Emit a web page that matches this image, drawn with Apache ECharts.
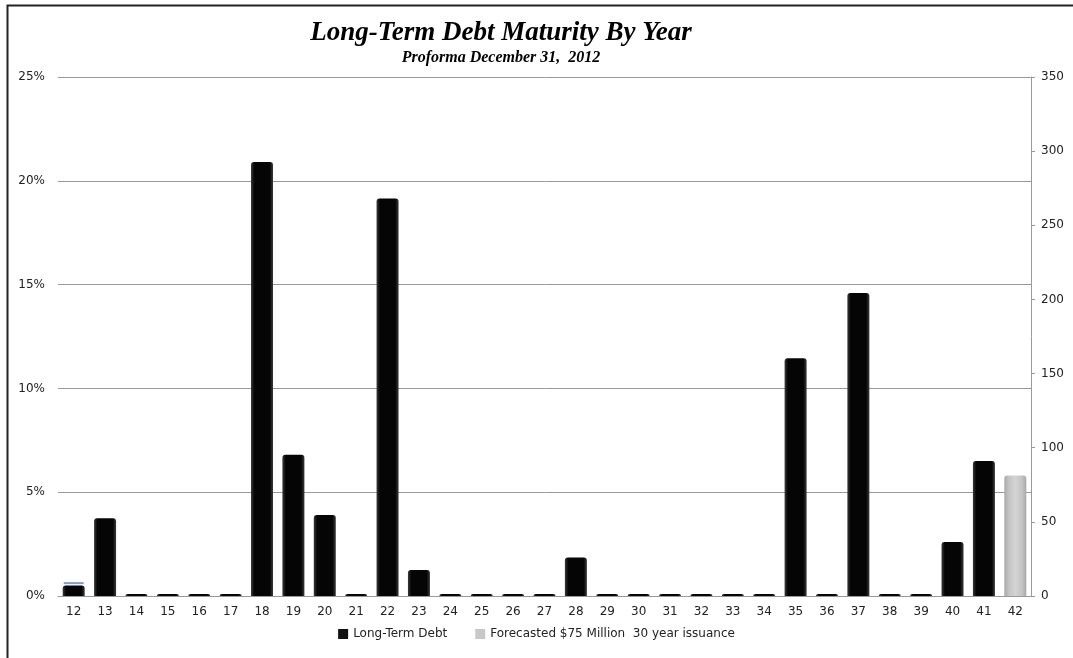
<!DOCTYPE html>
<html>
<head>
<meta charset="utf-8">
<script src="https://cdn.jsdelivr.net/npm/echarts@6/dist/echarts.min.js"></script>
<style>
  html, body { margin: 0; padding: 0; background: #fff; }
  #chart { width: 1073px; height: 658px; }
</style>
</head>
<body>
<div id="chart"></div>
<script>
// years of maturity (20xx)
const years = ["12","13","14","15","16","17","18","19","20","21","22","23","24","25","26",
  "27","28","29","30","31","32","33","34","35","36","37","38","39","40","41","42"];

// share of long-term debt maturing each year, %
const debtPct = [0.5, 3.75, 0, 0, 0, 0, 20.9, 6.8, 3.9, 0, 19.15, 1.25, 0, 0, 0,
  0, 1.85, 0, 0, 0, 0, 0, 0, 11.45, 0, 14.6, 0, 0, 2.6, 6.5, null];

// forecasted $75M 30 year issuance, %
const forecastPct = [null, null, null, null, null, null, null, null, null, null, null, null, null, null, null,
  null, null, null, null, null, null, null, null, null, null, null, null, null, null, null, 5.8];

// small blue marker above 2012 bar
const markerPct = [0.62];
const markerYears = ["12"];

const chart = echarts.init(document.getElementById("chart"));

const blackFill = new echarts.graphic.LinearGradient(0, 0, 1, 0, [
  { offset: 0, color: "#3a3a3a" },
  { offset: 0.15, color: "#050505" },
  { offset: 0.85, color: "#050505" },
  { offset: 1, color: "#3a3a3a" },
]);
const grayFill = new echarts.graphic.LinearGradient(0, 0, 1, 0, [
  { offset: 0, color: "#a8a8a8" },
  { offset: 0.2, color: "#c4c4c4" },
  { offset: 0.5, color: "#d4d4d4" },
  { offset: 0.8, color: "#c4c4c4" },
  { offset: 1, color: "#a8a8a8" },
]);

const labelFont = "'DejaVu Sans', Verdana, sans-serif";

chart.setOption({
  animation: false,
  title: {
    text: "Long-Term Debt Maturity By Year",
    subtext: "Proforma December 31,  2012",
    left: 496,
    textAlign: "center",
    top: 15,
    itemGap: 3,
    textStyle: {
      fontFamily: "'Liberation Serif', 'Times New Roman', serif",
      fontStyle: "italic",
      fontWeight: "bold",
      fontSize: 27,
      color: "#000",
    },
    subtextStyle: {
      fontFamily: "'Liberation Serif', 'Times New Roman', serif",
      fontStyle: "italic",
      fontWeight: "bold",
      fontSize: 16,
      color: "#000",
    },
  },
  legend: {
    bottom: 13,
    left: "center",
    itemWidth: 10,
    itemHeight: 10,
    itemGap: 28,
    icon: "rect",
    textStyle: { fontFamily: labelFont, fontSize: 12, color: "#222" },
    data: [
      { name: "Long-Term Debt", itemStyle: { color: "#111" } },
      { name: "Forecasted $75 Million  30 year issuance", itemStyle: { color: "#c8c8c8" } },
    ],
  },
  grid: { left: 58, right: 42, top: 77, bottom: 62 },
  xAxis: {
    type: "category",
    data: years,
    axisLine: { lineStyle: { color: "#999", width: 1 } },
    axisTick: { show: false },
    axisLabel: { fontFamily: labelFont, fontSize: 12, color: "#222", margin: 10 },
  },
  yAxis: [
    {
      type: "value",
      min: 0,
      max: 25,
      interval: 5,
      position: "left",
      axisLine: { show: false },
      axisTick: { show: false },
      axisLabel: { formatter: "{value}%", fontFamily: labelFont, fontSize: 12, color: "#222", margin: 13 },
      splitLine: { lineStyle: { color: "#999", width: 1 } },
    },
    {
      type: "value",
      min: 0,
      max: 350,
      interval: 50,
      position: "right",
      axisLine: { show: true, lineStyle: { color: "#999", width: 1 } },
      axisTick: { show: true, inside: false, length: 4, lineStyle: { color: "#999" } },
      axisLabel: { fontFamily: labelFont, fontSize: 12, color: "#222", margin: 10 },
      splitLine: { show: false },
    },
  ],
  series: [
    {
      name: "Long-Term Debt",
      type: "bar",
      yAxisIndex: 0,
      data: debtPct,
      barWidth: 22,
      barGap: "-100%",
      barMinHeight: 2,
      itemStyle: { color: blackFill, borderRadius: [3, 3, 0, 0] },
    },
    {
      name: "Forecasted $75 Million  30 year issuance",
      type: "bar",
      yAxisIndex: 0,
      data: forecastPct,
      barWidth: 22,
      itemStyle: { color: grayFill, borderRadius: [3, 3, 0, 0] },
    },
    {
      name: "marker",
      type: "scatter",
      yAxisIndex: 0,
      data: markerYears.map((y, i) => [y, markerPct[i]]),
      symbol: "rect",
      symbolSize: [20, 2],
      itemStyle: { color: "#5b84c0" },
      silent: true,
    },
  ],
  graphic: [
    {
      type: "polyline",
      shape: { points: [[7.5, 658], [7.5, 5.5], [1073, 5.5]] },
      style: { stroke: "#222", lineWidth: 2, fill: null },
      silent: true,
    },
  ],
});
</script>
</body>
</html>
